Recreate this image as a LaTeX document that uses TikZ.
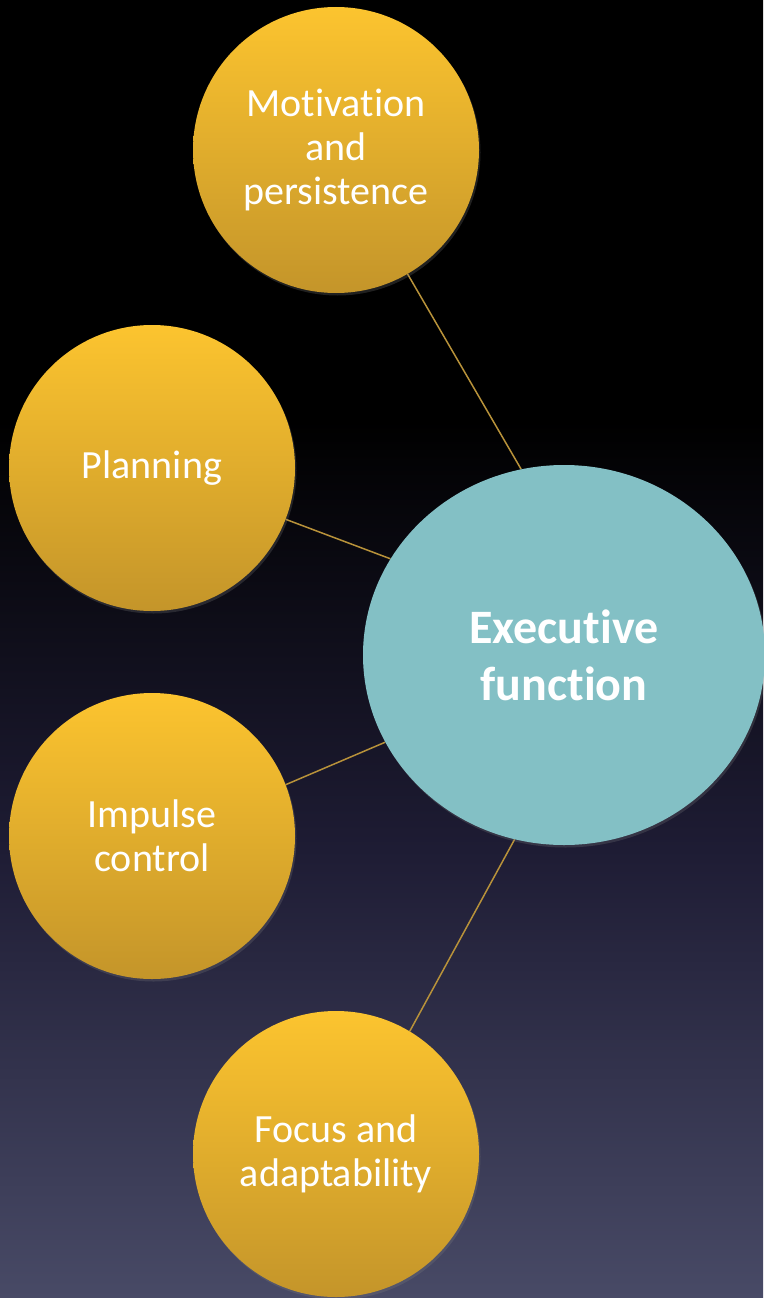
\documentclass[tikz,border=0pt]{standalone}
\usepackage{fontspec}
\setmainfont{Carlito}[Ligatures={NoCommon}]
\usetikzlibrary{shapes.geometric,shadows}
\definecolor{goldtop}{HTML}{FCC42F}
\definecolor{goldbot}{HTML}{C4952A}
\definecolor{teal}{HTML}{83C0C5}
\definecolor{linkc}{HTML}{B8923A}
\definecolor{bgmid}{HTML}{1E1C34}
\definecolor{bgbot}{HTML}{484A66}
\pgfdeclareverticalshading{bgshade}{100bp}{color(0bp)=(bgbot); color(25bp)=(bgbot); color(42.3bp)=(bgmid); color(58.8bp)=(black); color(100bp)=(black)}
\pgfdeclarelayer{backdrop}
\pgfdeclarelayer{edges}
\pgfsetlayers{backdrop,edges,main}
\tikzset{
  bubble/.style={circle, minimum size=286pt, inner sep=0pt, top color=goldtop, bottom color=goldbot, text=white, align=center, font=\fontsize{40}{44}\selectfont, drop shadow={opacity=0.25, shadow xshift=1.5pt, shadow yshift=-2.5pt}},
  hub/.style={ellipse, minimum width=402pt, minimum height=380pt, inner sep=0pt, fill=teal, text=white, align=center, font=\bfseries\fontsize{48}{57}\selectfont, drop shadow={opacity=0.25, shadow xshift=1.5pt, shadow yshift=-2.5pt}},
  link/.style={draw=linkc, line width=1.5pt}
}
\begin{document}
\begin{tikzpicture}[x=1pt,y=-1pt]
\useasboundingbox (0,0) rectangle (763,1298);
\begin{pgfonlayer}{backdrop}
\shade[shading=bgshade] (0,0) rectangle (763,1298);
\end{pgfonlayer}
\node[bubble] (mot) at (336,150) {Motivation\\and\\persistence};
\node[bubble] (plan) at (152,468) {Planning};
\node[bubble] (imp) at (152,836) {Impulse\\control};
\node[bubble] (foc) at (336,1154) {Focus and\\adaptability};
\node[hub] (exe) at (564,655) {Executive\\function};
\begin{pgfonlayer}{edges}
\draw[link] (mot.-60) -- (exe.103.7);
\draw[link] (plan.-21.6) -- (exe.151.6);
\draw[link] (imp.21.2) -- (exe.206.8);
\draw[link] (foc.59.9) -- (exe.255.7);
\end{pgfonlayer}
\end{tikzpicture}
\end{document}
